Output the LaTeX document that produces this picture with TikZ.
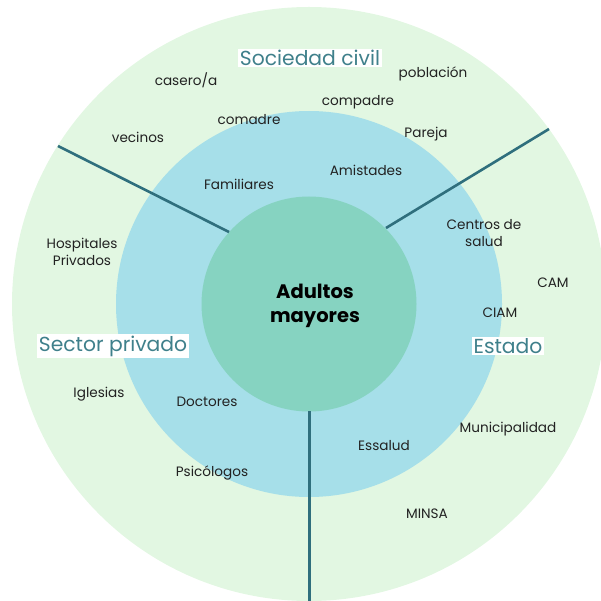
\documentclass[tikz,border=0pt]{standalone}
\usepackage{fontspec}
\setmainfont{Poppins}
\definecolor{outerg}{HTML}{E2F7E2}
\definecolor{midb}{HTML}{A6DFE9}
\definecolor{innert}{HTML}{86D3C1}
\definecolor{linec}{HTML}{2F6F7D}
\definecolor{headc}{HTML}{3F808B}
\definecolor{txt}{HTML}{222222}
\tikzset{
  item/.style={text=txt, font=\fontsize{13.6}{16.5}\selectfont, align=center, inner sep=0pt},
  sector/.style={text=headc, fill=white, font=\fontsize{20.3}{22}\selectfont, inner sep=1.5pt},
  divider/.style={draw=linec, line width=2.6pt},
}
\begin{document}
\begin{tikzpicture}[x=1pt,y=-1pt]
\useasboundingbox (0,0) rectangle (600,601);
\coordinate (c) at (309,304);
\fill[outerg] (c) circle (297);
\fill[midb] (c) circle (193);
\fill[innert] (c) circle (107.5);
% dividers
\coordinate (l1a) at (58,146); \coordinate (l1b) at (229,232);
\coordinate (l2a) at (549,129); \coordinate (l2b) at (386,228);
\coordinate (l3a) at (309.3,411); \coordinate (l3b) at (309.3,601);
\draw[divider] (l1a) -- (l1b);
\draw[divider] (l2a) -- (l2b);
\draw[divider] (l3a) -- (l3b);
% center
\node[font=\fontsize{19.5}{24}\selectfont\bfseries, align=center, text=black] (core) at (315,306) {Adultos\\mayores};
% sector labels
\node[sector] (soc) at (310,58) {Sociedad civil};
\node[sector] (priv) at (113,346) {Sector privado};
\node[sector] (est) at (508,346) {Estado};
% items
\node[item] (casero) at (186,80) {casero/a};
\node[item] (pobl) at (433,74) {población};
\node[item] (compadre) at (358,102) {compadre};
\node[item] (comadre) at (249,120) {comadre};
\node[item] (vecinos) at (138,137) {vecinos};
\node[item] (pareja) at (426,134) {Pareja};
\node[item] (amist) at (366,170) {Amistades};
\node[item] (famil) at (239,184) {Familiares};
\node[item] (centros) at (484,233) {Centros de\\salud};
\node[item] (hosp) at (82,252) {Hospitales\\Privados};
\node[item] (cam) at (553,283) {CAM};
\node[item] (ciam) at (500,313) {CIAM};
\node[item] (igles) at (99,394) {Iglesias};
\node[item] (doct) at (207,402) {Doctores};
\node[item] (muni) at (508,429) {Municipalidad};
\node[item] (essalud) at (384,446) {Essalud};
\node[item] (psico) at (212,473) {Psicólogos};
\node[item] (minsa) at (427,514) {MINSA};
\end{tikzpicture}
\end{document}
